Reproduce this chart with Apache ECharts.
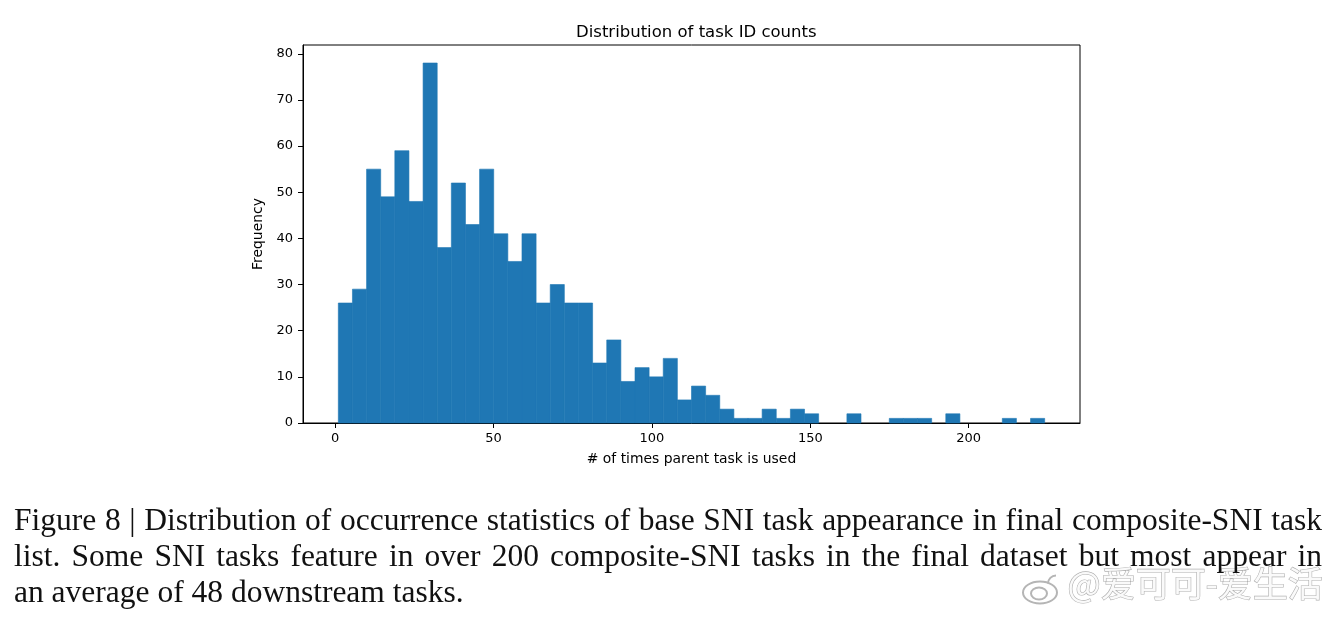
<!DOCTYPE html>
<html>
<head>
<meta charset="utf-8">
<script src="https://cdn.jsdelivr.net/npm/echarts@6/dist/echarts.min.js"></script>
<style>
html, body { margin: 0; padding: 0; background: #fff; }
#chart { position: absolute; left: 0; top: 0; width: 1337px; height: 618px; }
#caption { position: absolute; left: 14px; top: 502px; width: 1308px;
  font-family: "Liberation Serif", serif; font-size: 31.5px; line-height: 36px; color: #111; }
#caption div { white-space: nowrap; }
</style>
</head>
<body>
<div id="chart"></div>
<div id="caption"></div>
<script>
// ---- data ----
const binStart = 1;
const binEnd = 224;
const counts = [26, 29, 55, 49, 59, 48, 78, 38, 52, 43,
                55, 41, 35, 41, 26, 30, 26, 26, 13, 18,
                9, 12, 10, 14, 5, 8, 6, 3, 1, 1,
                3, 1, 3, 2, 0, 0, 2, 0, 0, 1,
                1, 1, 0, 2, 0, 0, 0, 1, 0, 1];
const xTicks = [0, 50, 100, 150, 200];
const yTicks = [0, 10, 20, 30, 40, 50, 60, 70, 80];
const titleText = 'Distribution of task ID counts';
const xName = '# of times parent task is used';
const yName = 'Frequency';
const captionLines = [
  'Figure 8 | Distribution of occurrence statistics of base SNI task appearance in final composite-SNI task',
  'list. Some SNI tasks feature in over 200 composite-SNI tasks in the final dataset but most appear in',
  'an average of 48 downstream tasks.'
];
const watermark = '@爱可可-爱生活';

// ---- build ----
const binWidth = (binEnd - binStart) / counts.length;
const bins = counts.map((c, i) => [binStart + i * binWidth, binStart + (i + 1) * binWidth, c]);

// caption: justify full lines via word-spacing measured on a canvas
const capEl = document.getElementById('caption');
const capWidth = 1308;
const mctx = document.createElement('canvas').getContext('2d');
mctx.font = '31.5px "Liberation Serif"';
captionLines.forEach((t, i) => {
  const d = document.createElement('div');
  d.textContent = t;
  if (i < captionLines.length - 1) {
    const w = mctx.measureText(t).width;
    const spaces = (t.match(/ /g) || []).length;
    d.style.wordSpacing = ((capWidth - w) / spaces) + 'px';
  }
  capEl.appendChild(d);
});

const font = 'DejaVu Sans';
const barColor = '#1f77b4';
const chart = echarts.init(document.getElementById('chart'), null, { renderer: 'canvas' });
chart.setOption({
  animation: false,
  backgroundColor: '#fff',
  title: {
    text: titleText, left: 571, top: 19,
    textStyle: { fontFamily: font, fontSize: 16.5, fontWeight: 'normal', color: '#000' }
  },
  grid: { left: 303, top: 45, width: 777, height: 378, show: true, borderColor: '#000', borderWidth: 1, backgroundColor: 'transparent' },
  xAxis: {
    type: 'value', min: -10.15, max: 235.15,
    name: xName, nameLocation: 'middle', nameGap: 29,
    nameTextStyle: { fontFamily: font, fontSize: 13.9, color: '#000' },
    axisLine: { show: true, onZero: false, lineStyle: { color: '#000', width: 1 } },
    axisTick: { show: true, length: 5, inside: false, customValues: xTicks, lineStyle: { color: '#000' } },
    axisLabel: { customValues: xTicks, fontFamily: font, fontSize: 13, color: '#000', margin: 9 },
    splitLine: { show: false }
  },
  yAxis: {
    type: 'value', min: 0, max: 81.9,
    name: yName, nameLocation: 'middle', nameGap: 28,
    nameTextStyle: { fontFamily: font, fontSize: 13.9, color: '#000' },
    axisLine: { show: true, onZero: false, lineStyle: { color: '#000', width: 1 } },
    axisTick: { show: true, length: 5, inside: false, customValues: yTicks, lineStyle: { color: '#000' } },
    axisLabel: { customValues: yTicks, fontFamily: font, fontSize: 13, color: '#000', margin: 10 },
    splitLine: { show: false }
  },
  series: [{
    type: 'custom',
    data: bins,
    encode: { x: [0, 1], y: 2 },
    renderItem: function (params, api) {
      const p0 = api.coord([api.value(0), api.value(2)]);
      const p1 = api.coord([api.value(1), 0]);
      return {
        type: 'rect',
        shape: { x: p0[0], y: p0[1], width: p1[0] - p0[0], height: p1[1] - p0[1] },
        style: { fill: barColor, stroke: api.value(2) > 0 ? barColor : null, lineWidth: 0.6 }
      };
    }
  }],
  graphic: [
    {
      type: 'group', left: 1022, top: 573,
      children: [
        { type: 'ellipse', shape: { cx: 18, cy: 15, rx: 17, ry: 11 }, style: { fill: '#fff', stroke: '#b5b5b5', lineWidth: 2 } },
        { type: 'ellipse', shape: { cx: 17, cy: 16, rx: 8, ry: 6 }, style: { fill: '#fff', stroke: '#b5b5b5', lineWidth: 2 } },
        { type: 'arc', shape: { cx: 34, cy: 6, r: 8, startAngle: -Math.PI, endAngle: -Math.PI / 2 }, style: { stroke: '#b5b5b5', lineWidth: 2 } }
      ]
    },
    {
      type: 'text', left: 1067, top: 566,
      style: { text: watermark, fontFamily: 'Noto Sans CJK SC', fontSize: 35, fill: '#fafafa', stroke: '#b0b0b0', lineWidth: 1.2 }
    }
  ]
});
</script>
</body>
</html>
